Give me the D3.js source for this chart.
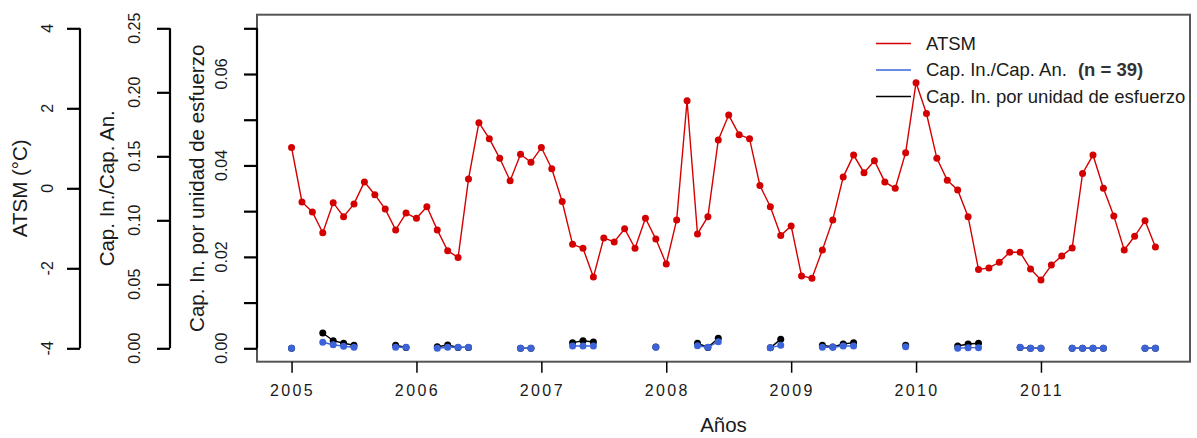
<!DOCTYPE html>
<html>
<head>
<meta charset="utf-8">
<script src="https://cdn.jsdelivr.net/npm/d3@7"></script>
<style>
  html, body { margin: 0; padding: 0; background: #fff; }
  svg { display: block; font-family: "Liberation Sans", Arial, sans-serif; }
</style>
</head>
<body>
<svg id="chart" width="1197" height="438"></svg>
<script>
// Monthly series, January 2005 to December 2011 (84 months)
const startYear = 2005;

// Sea surface temperature anomaly (°C)
const atsm = [
   1.02, -0.34, -0.59, -1.11, -0.36, -0.71, -0.39,  0.16, -0.16, -0.52, -1.04, -0.62,
  -0.75, -0.46, -1.04, -1.56, -1.73,  0.23,  1.64,  1.24,  0.75,  0.19,  0.85,  0.65,
   1.02,  0.49, -0.33, -1.40, -1.50, -2.22, -1.24, -1.34, -1.01, -1.50, -0.75, -1.27,
  -1.89, -0.79,  2.19, -1.14, -0.71,  1.21,  1.83,  1.34,  1.24,  0.07, -0.46, -1.18,
  -0.94, -2.19, -2.25, -1.54, -0.79,  0.28,  0.83,  0.39,  0.69,  0.16,  0.00,  0.89,
   2.64,  1.87,  0.75,  0.20, -0.04, -0.71, -2.03, -1.99, -1.85, -1.60, -1.60, -2.02,
  -2.29, -1.92, -1.69, -1.49,  0.37,  0.83,  0.00, -0.69, -1.54, -1.20, -0.81, -1.47
];

// Incidental catch / target catch ratio (null = no sampling that month)
const capRatio = [
  0,      null,   null,   0.0047, 0.0028, 0.0016, 0.0008, null,   null,   null,   0.0008, 0.0008,
  null,   null,   0,      0.0008, 0.0008, 0.0008, null,   null,   null,   null,   0,      0,
  null,   null,   null,   0.0018, 0.0018, 0.0018, null,   null,   null,   null,   null,   0.0008,
  null,   null,   null,   0.0020, 0.0008, 0.0052, null,   null,   null,   null,   0.0005, 0.0023,
  null,   null,   null,   0.0008, 0.0008, 0.0018, 0.0018, null,   null,   null,   null,   0.0013,
  null,   null,   null,   null,   0,      0.0005, 0.0005, null,   null,   null,   0.0008, 0,
  0,      null,   null,   0,      0,      0,      0,      null,   null,   null,   0,      0
];

// Incidental catch per unit of effort
const cpue = [
  0,       null,    null,    0.00335, 0.00166, 0.0011,  0.00066, null,    null,    null,    0.00066, 0.0002,
  null,    null,    0.00035, 0.00072, 0.0002,  0.0002,  null,    null,    null,    null,    0,       0,
  null,    null,    null,    0.00123, 0.00166, 0.00138, null,    null,    null,    null,    null,    0.0003,
  null,    null,    null,    0.0011,  0.0002,  0.0022,  null,    null,    null,    null,    0.0001,  0.0020,
  null,    null,    null,    0.00066, 0.0003,  0.00094, 0.00123, null,    null,    null,    null,    0.00066,
  null,    null,    null,    null,    0.0005,  0.00094, 0.0011,  null,    null,    null,    0.0002,  0,
  0,       null,    null,    0,       0,       0,       0,       null,    null,    null,    0,       0
];

const yearTicks = [2005, 2006, 2007, 2008, 2009, 2010, 2011];
const atsmTicks = [-4, -2, 0, 2, 4];
const ratioTicks = [0, 0.05, 0.10, 0.15, 0.20, 0.25];
const cpueTicks = [0, 0.01, 0.02, 0.03, 0.04, 0.05, 0.06, 0.07];
const cpueLabelled = [0, 0.02, 0.04, 0.06];

const months = atsm.map((_, i) => startYear + i / 12);

const svg = d3.select("#chart");

const box = { left: 257, right: 1190, top: 14.7, bottom: 361.7 };
const yTop = 28.3, yBottom = 348.3;

const xMin = d3.min(months), xMax = d3.max(months);
const pad = (xMax - xMin) * 0.04;
const x = d3.scaleLinear().domain([xMin - pad, xMax + pad]).range([box.left, box.right]);

const yAtsm = d3.scaleLinear().domain([-4, 4]).range([yBottom, yTop]);
const yRatio = d3.scaleLinear().domain([0, 0.25]).range([yBottom, yTop]);
const yCpue = d3.scaleLinear().domain([0, 0.07]).range([yBottom, yTop]);

const textColor = "#1a1a1a";
const red = "#d40000", blue = "#3c64d8", black = "#000";

// Plot frame
svg.append("rect")
  .attr("x", box.left).attr("y", box.top)
  .attr("width", box.right - box.left).attr("height", box.bottom - box.top)
  .attr("fill", "none").attr("stroke", "#555").attr("stroke-width", 2);

// Left-hand axes, rotated labels
function leftAxis(scale, xPos, ticks, fmt, labelTicks, title, labelX, titleX) {
  const g = svg.append("g").attr("transform", `translate(${xPos},0)`);
  const ax = d3.axisLeft(scale).tickValues(ticks).tickSize(13).tickFormat("");
  g.call(ax);
  g.select(".domain").attr("d", `M0,${yBottom}V${yTop}`).attr("stroke", "#000").attr("stroke-width", 2.2);
  g.selectAll(".tick line").attr("stroke", "#000").attr("stroke-width", 2.2);
  (labelTicks || ticks).forEach(v => {
    svg.append("text")
      .attr("transform", `translate(${labelX},${scale(v)}) rotate(-90)`)
      .attr("text-anchor", "middle").attr("dy", "0.35em")
      .attr("font-size", 16).attr("fill", textColor)
      .text(fmt(v));
  });
  svg.append("text")
    .attr("transform", `translate(${titleX},${(yTop + yBottom) / 2}) rotate(-90)`)
    .attr("text-anchor", "middle").attr("dy", "0.35em")
    .attr("font-size", 20.5).attr("fill", textColor)
    .text(title);
}

leftAxis(yAtsm, 80, atsmTicks, v => String(v), null, "ATSM (°C)", 47, 20);
leftAxis(yRatio, 170, ratioTicks, d3.format(".2f"), null, "Cap. In./Cap. An.", 134, 107);
leftAxis(yCpue, box.left, cpueTicks, d3.format(".2f"), cpueLabelled, "Cap. In. por unidad de esfuerzo", 221, 197);

// Bottom axis
const gx = svg.append("g").attr("transform", `translate(0,${box.bottom})`);
gx.call(d3.axisBottom(x).tickValues(yearTicks).tickSize(11).tickFormat(""));
gx.select(".domain").remove();
gx.selectAll(".tick line").attr("stroke", "#000").attr("stroke-width", 1.5);
yearTicks.forEach(v => {
  svg.append("text")
    .attr("x", x(v) + 1).attr("y", 396)
    .attr("text-anchor", "middle")
    .attr("font-size", 16).attr("letter-spacing", 2.4).attr("fill", textColor)
    .text(v);
});
svg.append("text")
  .attr("x", (box.left + box.right) / 2).attr("y", 432)
  .attr("text-anchor", "middle").attr("font-size", 20.5).attr("fill", textColor)
  .text("Años");

// Series
function series(values, yScale, color, width, r) {
  const pts = values.map((v, i) => ({ t: months[i], v }));
  svg.append("path")
    .datum(pts)
    .attr("fill", "none").attr("stroke", color).attr("stroke-width", width)
    .attr("d", d3.line().defined(d => d.v !== null).x(d => x(d.t)).y(d => yScale(d.v)));
  svg.append("g").selectAll("circle")
    .data(pts.filter(d => d.v !== null))
    .join("circle")
    .attr("cx", d => x(d.t)).attr("cy", d => yScale(d.v))
    .attr("r", r).attr("fill", color);
}

series(atsm, yAtsm, red, 1.4, 3.5);
series(cpue, yCpue, black, 1.4, 3.5);
series(capRatio, yRatio, blue, 1.4, 3.5);

// Legend
const legend = [
  { label: "ATSM", color: red, extra: null },
  { label: "Cap. In./Cap. An.", color: blue, extra: "(n = 39)" },
  { label: "Cap. In. por unidad de esfuerzo", color: black, extra: null }
];
legend.forEach((d, i) => {
  const yy = 43.5 + i * 26.5;
  svg.append("line")
    .attr("x1", 876).attr("x2", 911).attr("y1", yy).attr("y2", yy)
    .attr("stroke", d.color).attr("stroke-width", 1.6);
  const t = svg.append("text")
    .attr("x", 926).attr("y", yy).attr("dy", "0.35em")
    .attr("font-size", 18.5).attr("fill", textColor);
  t.append("tspan").text(d.label);
  if (d.extra) {
    t.append("tspan").attr("dx", 11).attr("font-weight", "bold").attr("fill", "#333").text(d.extra);
  }
});
</script>
</body>
</html>
